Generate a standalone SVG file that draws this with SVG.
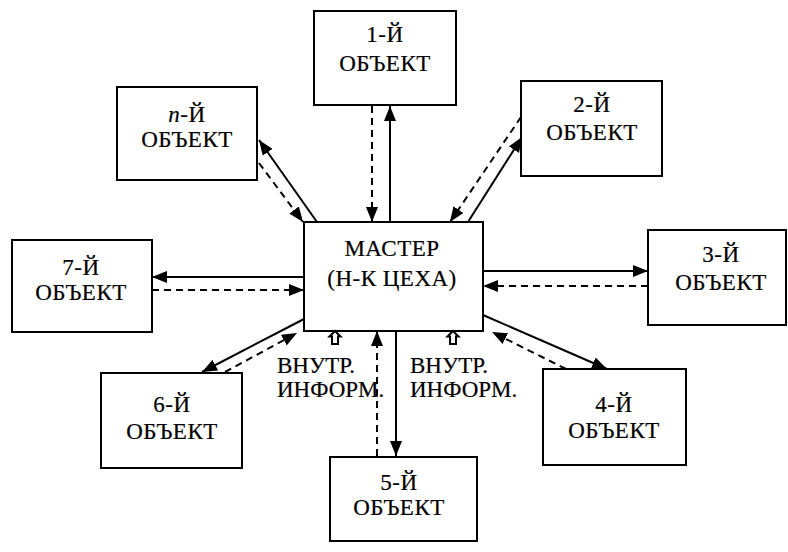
<svg xmlns="http://www.w3.org/2000/svg" width="788" height="552" viewBox="0 0 788 552">
  <style>
    .box { fill: #fff; stroke: #000; stroke-width: 2; }
    text { font-family: 'Liberation Serif', 'Times New Roman', Times, serif; font-size: 23px; fill: #000; stroke: #000; stroke-width: 0.2px; }
    .lbl { text-anchor: middle; letter-spacing: 0.5px; }
    .solid { stroke: #000; stroke-width: 2; fill: none; marker-end: url(#arrow); }
    .dash { stroke: #000; stroke-width: 2; fill: none; stroke-dasharray: 7 5; marker-end: url(#arrow); }
    .icon { fill: #fff; stroke: #000; stroke-width: 2; }
  </style>
  <defs>
    <marker id="arrow" markerUnits="userSpaceOnUse" markerWidth="16" markerHeight="12" refX="15" refY="6" orient="auto">
      <path d="M0,0 L15,6 L0,12 z" fill="#000"/>
    </marker>
  </defs>
  <rect width="788" height="552" fill="#fff"/>

  <g id="connectors">
    <!-- n-th object -->
    <line class="solid" x1="317" y1="222" x2="259" y2="140"/>
    <line class="dash" x1="259" y1="163" x2="303" y2="222"/>
    <!-- 1st object -->
    <line class="dash" x1="372" y1="106" x2="372" y2="222"/>
    <line class="solid" x1="390" y1="222" x2="390" y2="106"/>
    <!-- 2nd object -->
    <line class="dash" x1="521" y1="117" x2="450" y2="222"/>
    <line class="solid" x1="468" y1="222" x2="522" y2="137"/>
    <!-- 7th object -->
    <line class="solid" x1="304" y1="277" x2="152" y2="277"/>
    <line class="dash" x1="152" y1="290" x2="304" y2="290"/>
    <!-- 3rd object -->
    <line class="solid" x1="483" y1="271" x2="648" y2="271"/>
    <line class="dash" x1="648" y1="286" x2="483" y2="286"/>
    <!-- 6th object -->
    <line class="solid" x1="304" y1="319" x2="202" y2="372"/>
    <line class="dash" x1="225" y1="372" x2="297" y2="333"/>
    <!-- 5th object -->
    <line class="dash" x1="377" y1="456" x2="377" y2="331"/>
    <line class="solid" x1="396" y1="331" x2="396" y2="456"/>
    <!-- 4th object -->
    <line class="solid" x1="483" y1="315" x2="607" y2="369"/>
    <line class="dash" x1="566" y1="369" x2="492" y2="332"/>
  </g>

  <g id="master">
    <rect class="box" x="304" y="222" width="179" height="109"/>
    <text class="lbl" x="392" y="256">МАСТЕР</text>
    <text class="lbl" x="392" y="286">(Н-К ЦЕХА)</text>
  </g>

  <g id="obj1">
    <rect class="box" x="314" y="11" width="142" height="94"/>
    <text class="lbl" x="385" y="42">1-Й</text>
    <text class="lbl" x="385" y="71">ОБЪЕКТ</text>
  </g>

  <g id="objn">
    <rect class="box" x="117" y="87" width="140" height="93"/>
    <text class="lbl" x="187" y="122"><tspan font-style="italic">n</tspan>-Й</text>
    <text class="lbl" x="187" y="147">ОБЪЕКТ</text>
  </g>

  <g id="obj2">
    <rect class="box" x="521" y="81" width="141" height="95"/>
    <text class="lbl" x="592" y="112">2-Й</text>
    <text class="lbl" x="592" y="140">ОБЪЕКТ</text>
  </g>

  <g id="obj3">
    <rect class="box" x="648" y="230" width="138" height="95"/>
    <text class="lbl" x="721" y="262">3-Й</text>
    <text class="lbl" x="721" y="290">ОБЪЕКТ</text>
  </g>

  <g id="obj7">
    <rect class="box" x="12" y="240" width="140" height="92"/>
    <text class="lbl" x="81" y="275">7-Й</text>
    <text class="lbl" x="81" y="300">ОБЪЕКТ</text>
  </g>

  <g id="obj6">
    <rect class="box" x="101" y="373" width="141" height="95"/>
    <text class="lbl" x="172" y="412">6-Й</text>
    <text class="lbl" x="172" y="439">ОБЪЕКТ</text>
  </g>

  <g id="obj4">
    <rect class="box" x="543" y="369" width="143" height="96"/>
    <text class="lbl" x="614" y="412">4-Й</text>
    <text class="lbl" x="614" y="438">ОБЪЕКТ</text>
  </g>

  <g id="obj5">
    <rect class="box" x="330" y="457" width="147" height="84"/>
    <text class="lbl" x="399" y="490">5-Й</text>
    <text class="lbl" x="399" y="515">ОБЪЕКТ</text>
  </g>

  <g id="internal-left">
    <path class="icon" d="M335,331 L340.5,336.5 L338,336.5 L338,344 L332,344 L332,336.5 L329.5,336.5 z"/>
    <text x="277" y="373">ВНУТР.</text>
    <text x="277" y="397">ИНФОРМ.</text>
  </g>

  <g id="internal-right">
    <path class="icon" d="M453,331 L458.5,336.5 L456,336.5 L456,344 L450,344 L450,336.5 L447.5,336.5 z"/>
    <text x="410" y="373">ВНУТР.</text>
    <text x="410" y="397">ИНФОРМ.</text>
  </g>
</svg>
